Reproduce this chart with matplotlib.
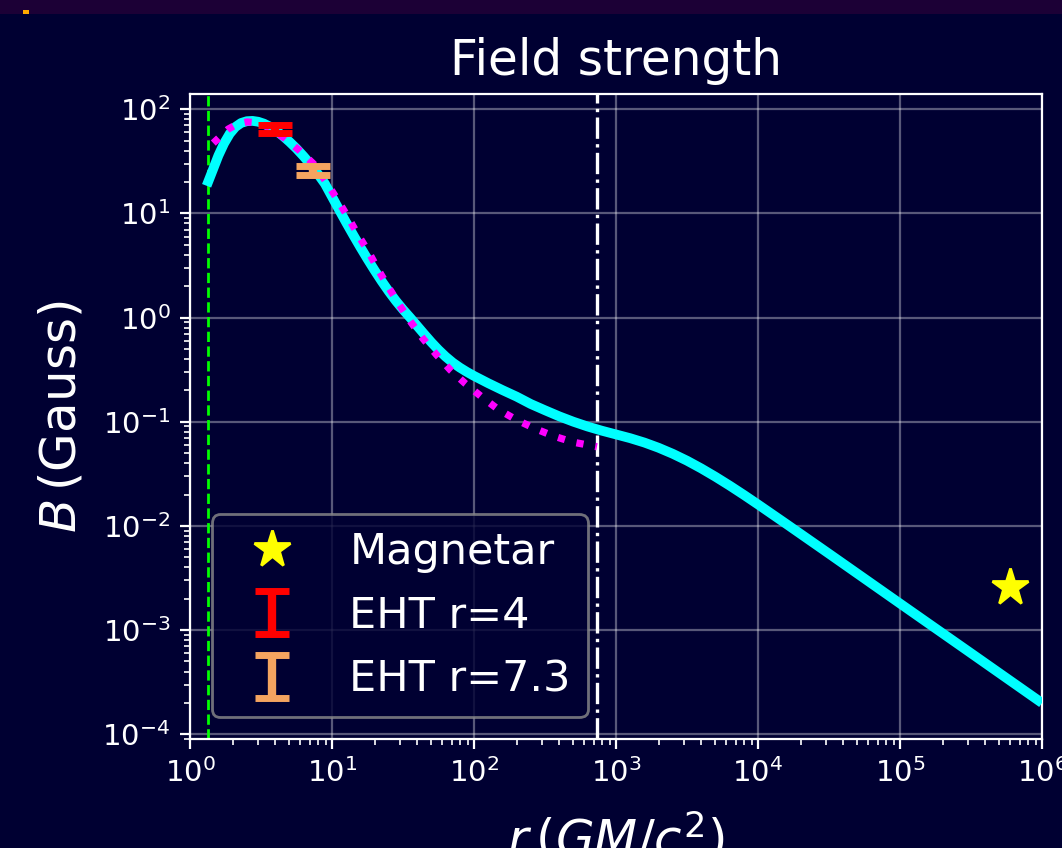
import matplotlib
matplotlib.use("Agg")
from matplotlib import pyplot as plt
from matplotlib.patches import Rectangle
import numpy as np

# readings, stored as log10 of r (GM/c^2) and of B (Gauss)
log_r_model = [0.117, 0.16, 0.20, 0.24, 0.28, 0.32, 0.36, 0.40, 0.44, 0.48,
               0.52, 0.56, 0.60, 0.65, 0.70, 0.75, 0.80, 0.85, 0.90, 0.95,
               1.00, 1.05, 1.10, 1.15, 1.20, 1.25, 1.30, 1.35, 1.40, 1.45,
               1.50, 1.55, 1.60, 1.65, 1.70, 1.75, 1.80, 1.85, 1.90, 1.95,
               2.00, 2.10, 2.20, 2.30, 2.40, 2.50, 2.60, 2.70, 2.80, 2.90,
               3.00, 3.10, 3.20, 3.30, 3.40, 3.50, 3.60, 3.70, 3.80, 3.90,
               4.00, 4.20, 4.50, 5.00, 5.50, 6.00]
log_B_model = [1.265, 1.415, 1.555, 1.672, 1.765, 1.830, 1.868, 1.885, 1.888,
               1.880, 1.862, 1.835, 1.800, 1.748, 1.688, 1.622, 1.548, 1.468,
               1.380, 1.285, 1.160, 1.035, 0.912, 0.792, 0.675, 0.562, 0.453,
               0.349, 0.251, 0.160, 0.077, 0.000, -0.080, -0.160, -0.238,
               -0.310, -0.375, -0.432, -0.480, -0.522, -0.560, -0.630, -0.696,
               -0.759, -0.830, -0.890, -0.948, -1.000, -1.046, -1.086, -1.122,
               -1.158, -1.200, -1.250, -1.308, -1.374, -1.448, -1.528, -1.613,
               -1.702, -1.794, -1.982, -2.267, -2.745, -3.222, -3.700]

log_r_fit = [0.164, 0.269, 0.335, 0.403, 0.47, 0.54, 0.60, 0.668, 0.773,
             0.871, 0.961, 1.038, 1.113, 1.183, 1.258, 1.328, 1.401, 1.476,
             1.558, 1.640, 1.734, 1.834, 1.940, 2.053, 2.170, 2.292, 2.426,
             2.561, 2.697, 2.866]
log_B_fit = [1.675, 1.809, 1.860, 1.878, 1.870, 1.835, 1.785, 1.720, 1.601,
             1.474, 1.298, 1.132, 0.963, 0.794, 0.629, 0.453, 0.284, 0.118,
             -0.048, -0.201, -0.354, -0.504, -0.635, -0.760, -0.881, -0.977,
             -1.064, -1.138, -1.196, -1.240]

r_model = 10 ** np.array(log_r_model)
B_model = 10 ** np.array(log_B_model)
r_fit = 10 ** np.array(log_r_fit)
B_fit = 10 ** np.array(log_B_fit)

r_eht = [4.0, 7.3]
B_eht = [65.0, 25.9]
B_eht_err = [5.9, 2.6]
eht_labels = ["EHT r=4", "EHT r=7.3"]
eht_colors = ["red", "sandybrown"]

r_magnetar = [6.0e5]
B_magnetar = [2.6e-3]

r_horizon = 1.34
r_outer = 735

bg = "#000032"

fig = plt.figure(figsize=(5.31, 4.24), dpi=200, facecolor=bg)
# strip of the slide showing above the figure
fig.patches.append(Rectangle((0, 1 - 14 / 848), 1, 14 / 848, transform=fig.transFigure,
                             facecolor="#1c0036", edgecolor="none", zorder=-1))
fig.patches.append(Rectangle((23 / 1062, 1 - 14 / 848), 6 / 1062, 4 / 848,
                             transform=fig.transFigure, facecolor="#ffaa00",
                             edgecolor="none"))

ax = fig.add_axes([190 / 1062, 1 - 739 / 848, 852 / 1062, 645 / 848])
ax.set_facecolor(bg)

ax.plot(r_model, B_model, color="cyan", lw=3.5, solid_capstyle="butt",
        solid_joinstyle="round", zorder=3)
ax.plot(r_fit, B_fit, color="magenta", lw=2.6, ls=":", zorder=4)

ax.axvline(r_horizon, color="lime", lw=1.0, ls="--", zorder=2)
ax.axvline(r_outer, color="white", lw=1.2, ls="-.", zorder=2)

ax.plot(r_magnetar, B_magnetar, ls="none", marker="*", color="yellow",
        markersize=14, label="Magnetar", zorder=5)

for i in range(len(r_eht)):
    ax.errorbar([r_eht[i]], [B_eht[i]], yerr=[B_eht_err[i]], fmt="none",
                ecolor=eht_colors[i], elinewidth=3, capsize=6, capthick=2.5,
                label=eht_labels[i], zorder=6)

ax.set_xscale("log")
ax.set_yscale("log")
ax.set_xlim(1, 1e6)
ax.set_ylim(9.0e-5, 1.4e2)

ax.grid(True, which="major", color="white", alpha=0.35, lw=0.8)
for s in ax.spines.values():
    s.set_color("white")
ax.tick_params(which="both", colors="white", labelcolor="white", labelsize=10.5)

ax.set_title("Field strength", color="white", fontsize=17.5, pad=7)
ax.set_xlabel(r"$r\,(GM/c^2)$", color="white", fontsize=18, labelpad=8)
ax.set_ylabel(r"$B\,$(Gauss)", color="white", fontsize=18, labelpad=6)

leg = ax.legend(loc="lower left", fontsize=15.5, facecolor=bg, edgecolor="0.55",
                framealpha=0.8)
for t in leg.get_texts():
    t.set_color("white")

fig.savefig("out.png", dpi=200, facecolor=bg)
